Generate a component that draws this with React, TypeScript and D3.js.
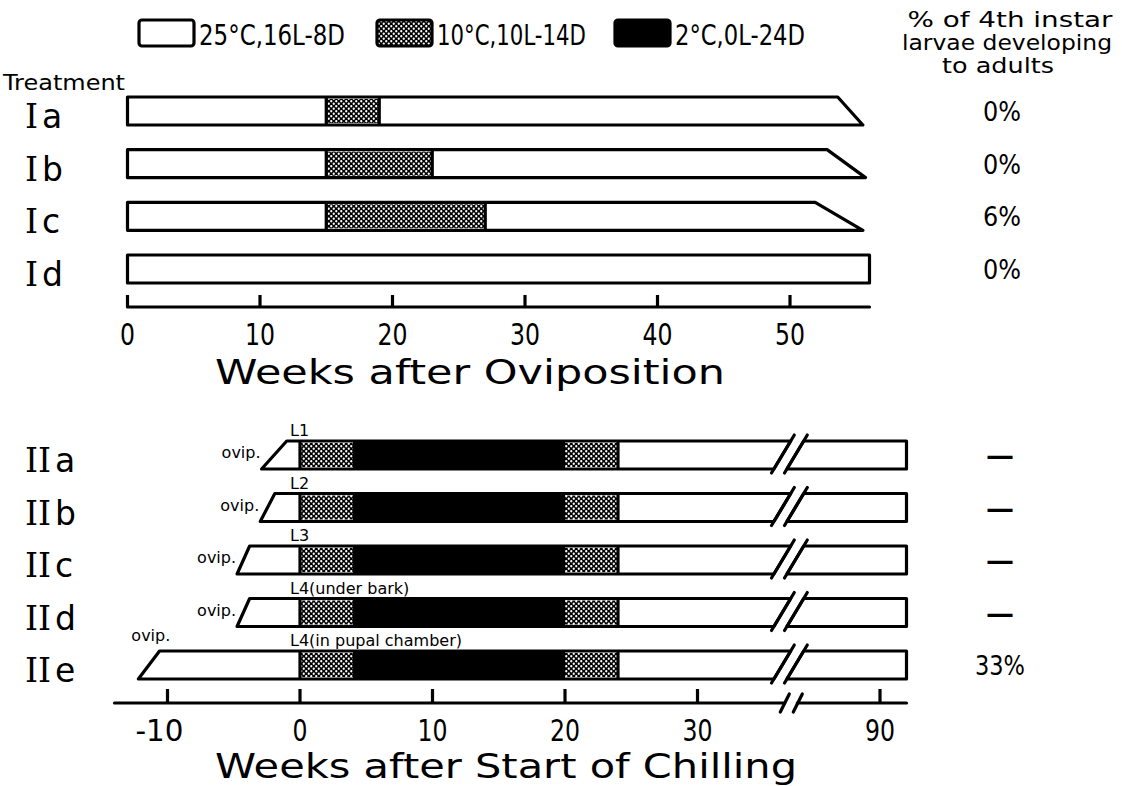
import React from "react";
import * as d3 from "d3";

// ---- data (weeks) ----
const legendItems = ["25°C,16L-8D", "10°C,10L-14D", "2°C,0L-24D"];
const legendKinds = ["warm", "cool", "cold"];

const topRows = ["Ia", "Ib", "Ic", "Id"];
const topCoolStart = [15, 15, 15, null];
const topCoolEnd = [19, 23, 27, null];
const topEndUpper = [53.6, 52.8, 51.9, 56];
const topEndLower = [55.5, 55.7, 55.5, 56];
const topAdults = ["0%", "0%", "6%", "0%"];
const topTicks = [0, 10, 20, 30, 40, 50];
const topAxisEnd = 56;

const botRows = ["IIa", "IIb", "IIc", "IId", "IIe"];
const botStage = ["L1", "L2", "L3", "L4(under bark)", "L4(in pupal chamber)"];
const ovipUpper = [-1.0, -1.9, -3.8, -3.8, -10.6];
const ovipLower = [-2.9, -3.0, -4.75, -4.75, -12.2];
const ovipAbove = [false, false, false, false, true];
const chillFrom = [0, 4, 20];
const chillTo = [4, 20, 24];
const chillKind = ["cool", "cold", "cool"];
const botEnd = 92;
const breakWeek = 36.4;
const botAxisStart = -14;
const botTicksLeft = [-10, 0, 10, 20, 30];
const botTicksRight = [90];
const botAdults = ["—", "—", "—", "—", "33%"];

const FONT = "'DejaVu Sans', sans-serif";
const SERIF = "'DejaVu Serif', serif";
const SW = 3.2;

const fillOf = (k: string) =>
  k === "warm" ? "#fff" : k === "cool" ? "url(#dots)" : "#000";

function T(props: {
  x: number;
  y: number;
  size: number;
  w?: number;
  anchor?: string;
  weight?: string;
  children: React.ReactNode;
}) {
  const { x, y, size, w, anchor = "start", weight, children } = props;
  return (
    <text
      x={x}
      y={y}
      fontSize={size}
      fontFamily={FONT}
      fontWeight={weight}
      textAnchor={anchor}
      textLength={w}
      lengthAdjust={w ? "spacingAndGlyphs" : undefined}
    >
      {children}
    </text>
  );
}

function RowLabel({ x, y, name }: { x: number; y: number; name: string }) {
  const roman = name.replace(/[a-z]/g, "");
  const letter = name.replace(/[I]/g, "");
  return (
    <text x={x} y={y} fontSize={33}>
      <tspan fontFamily={SERIF}>{roman}</tspan>
      <tspan fontFamily={FONT} dx={4}>
        {letter}
      </tspan>
    </text>
  );
}

export default function App() {
  // scales
  const xTop = d3.scaleLinear().domain([0, 50]).range([127.5, 790]);
  const yTop = d3.scalePoint<string>().domain(topRows).range([111, 269]);
  const xBotL = d3.scaleLinear().domain([0, 30]).range([300, 697.5]);
  const xBotR = d3.scaleLinear().domain([90, 92]).range([880, 906.5]);
  const xBot = (w: number) => (w < 60 ? xBotL(w) : xBotR(w));
  const yBot = d3.scalePoint<string>().domain(botRows).range([455, 665]);
  const barH = 28;
  const topAxisY = 307;
  const botAxisY = 703;
  const slash1 = xBot(breakWeek);
  const slash2 = slash1 + 13;
  const slope = 0.6;

  return (
    <svg
      width={1122}
      height={786}
      style={{ position: "absolute", left: 0, top: 0, background: "#fff" }}
    >
      <defs>
        <pattern id="dots" width={5} height={5} patternUnits="userSpaceOnUse">
          <rect width={5} height={5} fill="#000" />
          <circle cx={1.25} cy={1.25} r={1.15} fill="#fff" />
          <circle cx={3.75} cy={3.75} r={1.15} fill="#fff" />
        </pattern>
      </defs>

      {/* legend */}
      {legendItems.map((t, i) => {
        const bx = [139, 377, 615][i];
        const tw = [146, 149, 130][i];
        return (
          <g key={t}>
            <rect
              x={bx}
              y={20}
              width={55}
              height={26}
              rx={3}
              fill={fillOf(legendKinds[i])}
              stroke="#000"
              strokeWidth={SW}
            />
            <T x={bx + 60} y={45} size={29} w={tw}>
              {t}
            </T>
          </g>
        );
      })}

      {/* header of right column */}
      <T x={1010} y={27} size={22} w={205} anchor="middle">
        % of 4th instar
      </T>
      <T x={1007} y={50} size={22} w={210} anchor="middle">
        larvae developing
      </T>
      <T x={998} y={73} size={22} w={112} anchor="middle">
        to adults
      </T>

      <T x={3} y={90} size={21} w={122}>
        Treatment
      </T>

      {/* top section bars */}
      {topRows.map((r, i) => {
        const cy = yTop(r)!;
        const y0 = cy - barH / 2;
        const y1 = cy + barH / 2;
        const pts = [
          [xTop(0), y0],
          [xTop(topEndUpper[i]), y0],
          [xTop(topEndLower[i]), y1],
          [xTop(0), y1],
        ];
        const cs = topCoolStart[i];
        const ce = topCoolEnd[i];
        return (
          <g key={r}>
            <RowLabel x={25} y={cy + 17} name={r} />
            <polygon
              points={pts.map((p) => p.join(",")).join(" ")}
              fill="#fff"
              stroke="#000"
              strokeWidth={SW}
              strokeLinejoin="round"
            />
            {cs !== null && ce !== null && (
              <g>
                <rect
                  x={xTop(cs)}
                  y={y0 + 2}
                  width={xTop(ce) - xTop(cs)}
                  height={barH - 4}
                  fill="url(#dots)"
                />
                <line x1={xTop(cs)} x2={xTop(cs)} y1={y0} y2={y1} stroke="#000" strokeWidth={SW} />
                <line x1={xTop(ce)} x2={xTop(ce)} y1={y0} y2={y1} stroke="#000" strokeWidth={SW} />
              </g>
            )}
            <T x={1002} y={cy + 10} size={26} w={38} anchor="middle">
              {topAdults[i]}
            </T>
          </g>
        );
      })}

      {/* top axis */}
      <line
        x1={xTop(0)}
        x2={xTop(topAxisEnd)}
        y1={topAxisY}
        y2={topAxisY}
        stroke="#000"
        strokeWidth={SW}
        strokeLinecap="round"
      />
      {topTicks.map((t) => (
        <g key={t}>
          <line
            x1={xTop(t)}
            x2={xTop(t)}
            y1={topAxisY}
            y2={topAxisY - 12}
            stroke="#000"
            strokeWidth={SW}
          />
          <T x={xTop(t)} y={345} size={31} w={String(t).length * 15} anchor="middle">
            {t}
          </T>
        </g>
      ))}
      <T x={215} y={384} size={33} w={510}>
        Weeks after Oviposition
      </T>

      {/* bottom section bars */}
      {botRows.map((r, i) => {
        const cy = yBot(r)!;
        const y0 = cy - barH / 2;
        const y1 = cy + barH / 2;
        const sx = (c: number, y: number) => c + (cy - y) * slope;
        const left = [
          [xBot(ovipUpper[i]), y0],
          [sx(slash1, y0), y0],
          [sx(slash1, y1), y1],
          [xBot(ovipLower[i]), y1],
        ];
        const right = [
          [sx(slash2, y0), y0],
          [xBot(botEnd), y0],
          [xBot(botEnd), y1],
          [sx(slash2, y1), y1],
        ];
        const poly = (p: number[][]) => p.map((q) => q.join(",")).join(" ");
        return (
          <g key={r}>
            <RowLabel x={25} y={cy + 17} name={r} />
            <polygon points={poly(left)} fill="#fff" stroke="#000" strokeWidth={SW} strokeLinejoin="round" />
            <polygon points={poly(right)} fill="#fff" stroke="#000" strokeWidth={SW} strokeLinejoin="round" />
            {chillFrom.map((f, k) => (
              <rect
                key={k}
                x={xBot(f)}
                y={chillKind[k] === "cold" ? y0 : y0 + 2}
                width={xBot(chillTo[k]) - xBot(f)}
                height={chillKind[k] === "cold" ? barH : barH - 4}
                fill={fillOf(chillKind[k])}
              />
            ))}
            <line x1={xBot(0)} x2={xBot(0)} y1={y0} y2={y1} stroke="#000" strokeWidth={SW} />
            <line x1={xBot(24)} x2={xBot(24)} y1={y0} y2={y1} stroke="#000" strokeWidth={SW} />
            {[slash1, slash2].map((s, k) => (
              <line
                key={k}
                x1={sx(s, y0 - 6)}
                y1={y0 - 6}
                x2={sx(s, y1 + 4)}
                y2={y1 + 4}
                stroke="#000"
                strokeWidth={SW}
                strokeLinecap="round"
              />
            ))}
            <text x={xBot(0) - 10} y={y0 - 5} fontSize={16} fontFamily={FONT}>
              {botStage[i]}
            </text>
            {ovipAbove[i] ? (
              <text x={xBot(ovipLower[i]) - 7} y={y0 - 10} fontSize={16} fontFamily={FONT}>
                ovip.
              </text>
            ) : (
              <text
                x={xBot(ovipLower[i]) - 1}
                y={cy + 3}
                fontSize={16}
                fontFamily={FONT}
                textAnchor="end"
              >
                ovip.
              </text>
            )}
            <T
              x={1000}
              y={cy + 10}
              size={26}
              w={botAdults[i] === "—" ? 28 : 50}
              anchor="middle"
              weight={botAdults[i] === "—" ? "bold" : undefined}
            >
              {botAdults[i]}
            </T>
          </g>
        );
      })}

      {/* bottom axis with break */}
      <line
        x1={xBot(botAxisStart)}
        x2={slash1 + 2}
        y1={botAxisY}
        y2={botAxisY}
        stroke="#000"
        strokeWidth={SW}
        strokeLinecap="round"
      />
      <line
        x1={slash2 + 2}
        x2={xBot(botEnd)}
        y1={botAxisY}
        y2={botAxisY}
        stroke="#000"
        strokeWidth={SW}
        strokeLinecap="round"
      />
      {[slash1, slash2].map((s, k) => (
        <line
          key={k}
          x1={s - 2}
          y1={botAxisY + 9}
          x2={s + 7}
          y2={botAxisY - 9}
          stroke="#000"
          strokeWidth={SW}
          strokeLinecap="round"
        />
      ))}
      {[...botTicksLeft, ...botTicksRight].map((t) => (
        <g key={t}>
          <line
            x1={xBot(t)}
            x2={xBot(t)}
            y1={botAxisY}
            y2={botAxisY - 14}
            stroke="#000"
            strokeWidth={SW}
          />
          <T
            x={t < 0 ? xBot(t) - 8 : xBot(t)}
            y={741}
            size={31}
            w={t < 0 ? 48 : String(t).length * 15}
            anchor="middle"
          >
            {t < 0 ? "-" + Math.abs(t) : t}
          </T>
        </g>
      ))}
      <T x={215} y={778} size={33} w={582}>
        Weeks after Start of Chilling
      </T>
    </svg>
  );
}
